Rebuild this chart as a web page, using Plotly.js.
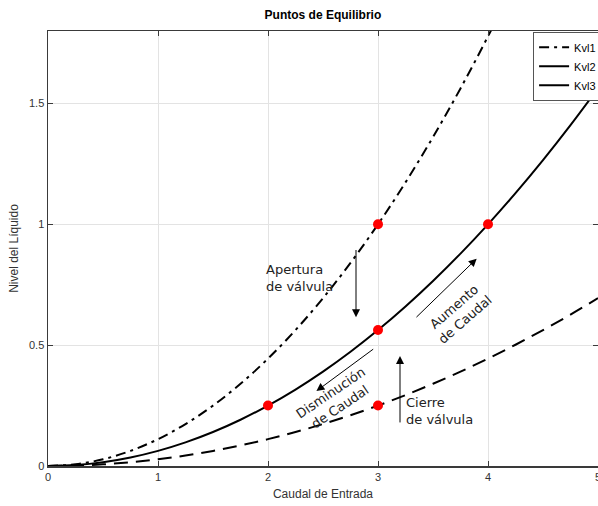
<!DOCTYPE html>
<html>
<head>
<meta charset="utf-8">
<script src="https://cdn.plot.ly/plotly-3.0.1.min.js"></script>
<style>html,body{margin:0;padding:0;background:#fff}#chart{width:598px;height:506px}</style>
</head>
<body>
<div id="chart"></div>
<script>
// Caudal de entrada (x) values
const caudal = [0,0.25,0.5,0.75,1,1.25,1.5,1.75,2,2.25,2.5,2.75,3,3.25,3.5,3.75,4,4.25,4.5,4.75,5];
// Nivel del líquido for each valve setting
const kvl1 = [0,0.0069,0.0278,0.0625,0.1111,0.1736,0.25,0.3403,0.4444,0.5625,0.6944,0.8403,1.0,1.1736,1.3611,1.5625,1.7778,2.0069,2.25,2.5069,2.7778];
const kvl2 = [0,0.0039,0.0156,0.0352,0.0625,0.0977,0.1406,0.1914,0.25,0.3164,0.3906,0.4727,0.5625,0.6602,0.7656,0.8789,1.0,1.1289,1.2656,1.4102,1.5625];
const kvl3 = [0,0.0017,0.0069,0.0156,0.0278,0.0434,0.0625,0.0851,0.1111,0.1406,0.1736,0.2101,0.25,0.2934,0.3403,0.3906,0.4444,0.5017,0.5625,0.6267,0.6944];
// Equilibrium points
const ptsX = [2,3,3,4,3];
const ptsY = [0.25,0.5625,1,1,0.25];
const seriesNames = ['Kvl1','Kvl2','Kvl3'];
const xTicks = [0,1,2,3,4,5];
const yTicks = [0,0.5,1,1.5];
const yTickText = ['0','0.5','1','1.5'];

const axisColor = '#3a3a3a';
const traces = [
  {x: caudal, y: kvl1, name: seriesNames[0], mode: 'lines', line: {color: '#000', width: 2, dash: '10px,5px,3px,5px', shape: 'spline'}},
  {x: caudal, y: kvl2, name: seriesNames[1], mode: 'lines', line: {color: '#000', width: 2, shape: 'spline'}},
  {x: caudal, y: kvl3, name: seriesNames[2], mode: 'lines', showlegend: false, line: {color: '#000', width: 2, dash: '14px,8px', shape: 'spline'}},
  {x: [null], y: [null], name: seriesNames[2], mode: 'lines', line: {color: '#000', width: 2}},
  {x: ptsX, y: ptsY, mode: 'markers', showlegend: false, marker: {color: '#ff0000', size: 10}}
];

const annFont = {family: 'DejaVu Sans', size: 13, color: '#222'};
function arrow(x0, y0, x1, y1) {
  return {x: x1, y: y1, ax: x0, ay: y0, xref: 'x', yref: 'y', axref: 'x', ayref: 'y',
    showarrow: true, arrowhead: 2, arrowsize: 1.6, arrowwidth: 1, arrowcolor: '#000', text: ''};
}
const annotations = [
  arrow(2.8, 0.90, 2.8, 0.616),
  arrow(3.2, 0.174, 3.2, 0.455),
  arrow(2.97, 0.488, 2.44, 0.31),
  arrow(3.336, 0.61, 3.897, 0.858),
  {x: 2.286, y: 0.777, xref: 'x', yref: 'y', text: 'Apertura<br>de válvula', showarrow: false, align: 'left', font: annFont},
  {x: 3.555, y: 0.227, xref: 'x', yref: 'y', text: 'Cierre<br>de válvula', showarrow: false, align: 'left', font: annFont},
  {x: 2.61, y: 0.275, xref: 'x', yref: 'y', text: 'Disminución<br>de Caudal', showarrow: false, align: 'center', textangle: -34, font: annFont},
  {x: 3.745, y: 0.632, xref: 'x', yref: 'y', text: 'Aumento<br>de Caudal', showarrow: false, align: 'center', textangle: -41, font: annFont}
];

const layout = {
  width: 598, height: 506,
  margin: {l: 48, r: 0, t: 31, b: 40, pad: 0, autoexpand: false},
  paper_bgcolor: '#fff', plot_bgcolor: '#fff',
  font: {family: 'Liberation Sans, Arial, sans-serif', size: 11, color: '#333'},
  title: {text: '<b>Puntos de Equilibrio</b>', font: {size: 12, color: '#000'}, x: 0.54, xanchor: 'center', y: 0.97, yanchor: 'middle', automargin: false},
  xaxis: {
    range: [0, 5], tickvals: xTicks, ticktext: xTicks.map(String), automargin: false,
    ticklabeloverflow: 'allow',
    showgrid: true, gridcolor: '#e3e3e3', gridwidth: 1, zeroline: false,
    showline: true, linecolor: axisColor, linewidth: 1.5, mirror: 'ticks',
    ticks: 'inside', ticklen: 5, tickcolor: axisColor,
    title: {text: 'Caudal de Entrada', font: {size: 12, color: '#333'}, standoff: 8}
  },
  yaxis: {
    range: [0, 1.8], tickvals: yTicks, ticktext: yTickText, automargin: false,
    showgrid: true, gridcolor: '#e3e3e3', gridwidth: 1, zeroline: false,
    showline: true, linecolor: axisColor, linewidth: 1.5, mirror: 'ticks',
    ticks: 'inside', ticklen: 5, tickcolor: axisColor,
    title: {text: 'Nivel del Líquido', font: {size: 12, color: '#333'}, standoff: 8}
  },
  legend: {x: 0.882, y: 0.998, xanchor: 'left', yanchor: 'top', bgcolor: '#fff',
    bordercolor: '#555', borderwidth: 1, font: {size: 11, color: '#000'},
    itemwidth: 30, tracegroupgap: 0},
  annotations: annotations,
  showlegend: true
};

Plotly.newPlot('chart', traces, layout, {staticPlot: true, displayModeBar: false});
</script>
</body>
</html>
